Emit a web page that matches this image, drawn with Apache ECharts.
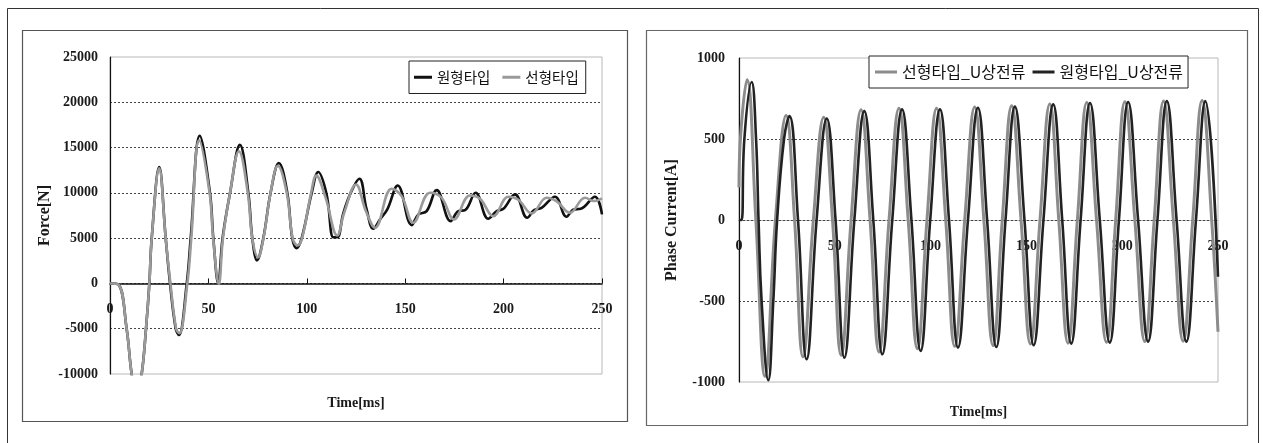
<!DOCTYPE html>
<html><head><meta charset="utf-8">
<script src="https://cdn.jsdelivr.net/npm/echarts@6/dist/echarts.min.js"></script>
<style>html,body{margin:0;padding:0;background:#fff}#c{width:1263px;height:443px}</style>
</head><body><div id="c"></div>
<script>
// ---- Left chart: Force [N] vs Time [ms]
const forceRoundT = [0, 4.2, 8.5, 11, 13.5, 16.1, 18.3, 20, 21.2, 25, 28.3, 30.5, 33.4, 35, 39, 41, 45.6, 50.8, 52.5, 55, 57.2, 61, 66, 70.3, 72.3, 74.7, 77.9, 81.6, 85.8, 90.1, 92.6, 94.8, 97.4, 102.5, 105.8, 110, 113.5, 115.5, 118.5, 122.3, 126.7, 130.4, 133.8, 137.2, 140.9, 146.2, 153.3, 156.7, 160.9, 166, 173.1, 177, 180.4, 185.8, 192.2, 196.5, 199.9, 205.8, 212, 215.5, 219.3, 226.1, 232, 235.6, 239.2, 246.4, 250];
const forceRoundV = [0, -100, -5080, -10000, -12500, -10000, -5000, 0, 5000, 12850, 5000, 0, -5000, -5700, 0, 5000, 16300, 10000, 5000, 0, 5000, 10000, 15300, 10000, 5000, 2550, 5000, 10000, 13300, 10000, 5000, 3900, 5000, 10000, 12300, 9900, 5100, 5100, 7700, 10000, 11560, 8170, 6040, 7070, 8170, 10820, 6440, 7620, 7980, 10300, 6880, 7980, 8090, 10010, 7140, 7980, 8240, 9830, 7250, 8090, 8350, 9570, 7360, 8170, 8240, 9570, 7620];

const forceLinearT = [0, 4.2, 8.5, 11, 13.5, 16.1, 18.3, 20, 21.2, 25, 28.3, 30.7, 33.6, 35.2, 39.3, 41.3, 45.3, 50.6, 52.4, 55.3, 57.4, 61, 65.5, 70, 72.3, 75.2, 78, 81.6, 85.3, 89.8, 92.8, 95.2, 97.6, 102.2, 104.8, 109.5, 115.5, 119, 125, 130, 134.7, 143.1, 148.2, 154.1, 162.6, 168.5, 174.8, 182.9, 188, 194.8, 202.4, 207.5, 214.3, 221.9, 227, 233.7, 241.4, 246, 250];
const forceLinearV = [0, -100, -5080, -10000, -12500, -10000, -5000, 0, 5000, 12700, 5000, 0, -5000, -5500, 0, 5000, 15800, 10000, 5000, -50, 5000, 10000, 14600, 10000, 5000, 2900, 5000, 10000, 13000, 10000, 5000, 4200, 5000, 10000, 11900, 9500, 5300, 7800, 10930, 8000, 6150, 10450, 9640, 6700, 10010, 9460, 7070, 9710, 9350, 7430, 9570, 9240, 7730, 9460, 9060, 7800, 9460, 9100, 9400];

// ---- Right chart: Phase current [A] vs Time [ms]
const curLinearT = [0, 0.9, 4.2, 8.8, 13.6, 19, 24.6, 29, 33.4, 38.8, 44.2, 48.8, 53.3, 58.5, 63.7, 68.4, 73.1, 78.3, 83.5, 88.3, 93.1, 98.1, 103.1, 107.9, 112.6, 117.8, 123, 127.8, 132.6, 137.4, 142.3, 147.2, 152.1, 157.1, 162.2, 166.9, 171.7, 176.6, 181.5, 186.6, 191.8, 196.6, 201.4, 206.6, 211.8, 216.7, 221.6, 226.7, 231.8, 236.8, 241.7, 246.7, 250];
const curLinearV = [200, 530, 865, 0, -965, 0, 645, 0, -845, 0, 635, 0, -835, 0, 680, 0, -815, 0, 690, 0, -795, 0, 690, 0, -780, 0, 698, 0, -775, 0, 705, 0, -765, 0, 716, 0, -760, 0, 725, 0, -755, 0, 730, 0, -750, 0, 735, 0, -748, 0, 737, 0, -690];

const curRoundT = [0, 1.3, 2.8, 6.6, 8.9, 10.2, 11.8, 15.3, 17.9, 19.9, 23.5, 26.3, 30.8, 35.3, 40.5, 45.8, 50.4, 55, 60.2, 65.4, 70.1, 74.8, 80, 85.1, 90, 94.8, 99.8, 104.9, 109.6, 114.3, 119.5, 124.7, 129.5, 134.3, 139.1, 144, 149, 153.8, 158.9, 164, 168.7, 173.4, 178.3, 183.2, 188.3, 193.5, 198.3, 203.1, 208.3, 213.5, 218.4, 223.3, 228.4, 233.5, 238.5, 243.4, 250];
const curRoundV = [0, 0, 500, 852, 500, 0, -500, -989, -500, 0, 500, 642, 0, -860, 0, 627, 0, -850, 0, 672, 0, -829, 0, 683, 0, -808, 0, 683, 0, -788, 0, 693, 0, -784, 0, 700, 0, -773, 0, 714, 0, -763, 0, 722, 0, -757, 0, 728, 0, -751, 0, 734, 0, -751, 0, 734, -350];

// ---- Axes ticks
const timeTicks = [0, 50, 100, 150, 200, 250];
const forceTicks = [-10000, -5000, 0, 5000, 10000, 15000, 20000, 25000];
const currentTicks = [-1000, -500, 0, 500, 1000];

const pair = (t, v) => t.map((x, i) => [x, v[i]]);
const serif = '"Liberation Serif", "Times New Roman", serif';
const kr = '"Noto Sans CJK KR", "Noto Sans", sans-serif';
const lbl = { fontFamily: serif, fontWeight: 'bold', fontSize: 14, color: '#1a1a1a', formatter: v => String(v) };
const nameStyle = { fontFamily: serif, fontWeight: 'bold', fontSize: 14, color: '#1a1a1a' };
const dotted = { type: [2, 2], color: '#444', width: 1 };

function axisFrom(ticks) {
  return { min: ticks[0], max: ticks[ticks.length - 1], interval: ticks[1] - ticks[0] };
}

const chart = echarts.init(document.getElementById('c'), null, { renderer: 'canvas' });
chart.setOption({
  animation: false,
  backgroundColor: '#fff',
  graphic: [
    { type: 'rect', silent: true, z: -10, shape: { x: 7.5, y: 8.5, width: 1251, height: 460 }, style: { fill: 'none', stroke: '#333', lineWidth: 1 } },
    { type: 'rect', silent: true, z: -10, shape: { x: 22.5, y: 30.5, width: 605, height: 391 }, style: { fill: 'none', stroke: '#555', lineWidth: 1.2 } },
    { type: 'rect', silent: true, z: -10, shape: { x: 646.5, y: 30.5, width: 601, height: 395 }, style: { fill: 'none', stroke: '#666', lineWidth: 1.2 } }
  ],
  grid: [
    { left: 110, top: 57, width: 492, height: 317, outerBoundsMode: 'none', containLabel: false, show: true, borderColor: '#b8b8b8', borderWidth: 1, backgroundColor: 'transparent' },
    { left: 739, top: 58, width: 479, height: 324, outerBoundsMode: 'none', containLabel: false, show: true, borderColor: '#b8b8b8', borderWidth: 1, backgroundColor: 'transparent' }
  ],
  legend: [
    {
      data: ['원형타입', '선형타입'], left: 409, top: 61, orient: 'horizontal',
      padding: [9, 7, 9, 5], itemGap: 12, itemWidth: 18, itemHeight: 3, icon: 'rect',
      borderColor: '#222', borderWidth: 1, backgroundColor: '#fff',
      textStyle: { fontFamily: kr, fontSize: 14.5, color: '#111' }
    },
    {
      data: ['선형타입_U상전류', '원형타입_U상전류'], left: 869, top: 56, orient: 'horizontal',
      padding: [8, 5, 8, 6], itemGap: 7, itemWidth: 22, itemHeight: 3, icon: 'rect',
      borderColor: '#222', borderWidth: 1, backgroundColor: '#fff',
      textStyle: { fontFamily: kr, fontSize: 16, color: '#111' }
    }
  ],
  xAxis: [
    Object.assign({
      gridIndex: 0, type: 'value',
      axisLine: { onZero: true, lineStyle: { color: '#111', width: 1.5 } },
      axisTick: { show: true, inside: true, length: 5, lineStyle: { color: '#111' } },
      axisLabel: Object.assign({}, lbl, { margin: -72 }),
      splitLine: { show: false },
      name: 'Time[ms]', nameLocation: 'middle', nameGap: 22, nameTextStyle: nameStyle
    }, axisFrom(timeTicks)),
    Object.assign({
      gridIndex: 1, type: 'value',
      axisLine: { show: true, onZero: true, lineStyle: dotted },
      axisTick: { show: false },
      axisLabel: Object.assign({}, lbl, { margin: -143 }),
      splitLine: { show: false },
      name: 'Time[ms]', nameLocation: 'middle', nameGap: 23, nameTextStyle: nameStyle
    }, axisFrom(timeTicks))
  ],
  yAxis: [
    Object.assign({
      gridIndex: 0, type: 'value',
      axisLine: { show: true, onZero: false, lineStyle: { color: '#111', width: 1.2 } },
      axisTick: { show: false },
      axisLabel: Object.assign({}, lbl, { margin: 12 }),
      splitLine: { show: true, showMinLine: false, showMaxLine: false, lineStyle: dotted },
      name: 'Force[N]', nameLocation: 'middle', nameGap: 57, nameRotate: 90,
      nameTextStyle: Object.assign({}, nameStyle, { fontSize: 16 })
    }, axisFrom(forceTicks)),
    Object.assign({
      gridIndex: 1, type: 'value',
      axisLine: { show: true, onZero: false, lineStyle: { color: '#111', width: 1.2 } },
      axisTick: { show: false },
      axisLabel: Object.assign({}, lbl, { margin: 14 }),
      splitLine: { show: true, showMinLine: false, showMaxLine: false, lineStyle: dotted },
      name: 'Phase Current[A]', nameLocation: 'middle', nameGap: 59, nameRotate: 90,
      nameTextStyle: Object.assign({}, nameStyle, { fontSize: 16 })
    }, axisFrom(currentTicks))
  ],
  series: [
    { name: '원형타입', type: 'line', xAxisIndex: 0, yAxisIndex: 0, data: pair(forceRoundT, forceRoundV), symbol: 'none', smooth: 0.4, clip: true,
      lineStyle: { color: '#111', width: 2.6 }, itemStyle: { color: '#111' } },
    { name: '선형타입', type: 'line', xAxisIndex: 0, yAxisIndex: 0, data: pair(forceLinearT, forceLinearV), symbol: 'none', smooth: 0.4, clip: true,
      lineStyle: { color: '#9a9a9a', width: 2.6 }, itemStyle: { color: '#9a9a9a' } },
    { name: '선형타입_U상전류', type: 'line', xAxisIndex: 1, yAxisIndex: 1, data: pair(curLinearT, curLinearV), symbol: 'none', smooth: 0.45, clip: true,
      lineStyle: { color: '#8c8c8c', width: 3 }, itemStyle: { color: '#8c8c8c' } },
    { name: '원형타입_U상전류', type: 'line', xAxisIndex: 1, yAxisIndex: 1, data: pair(curRoundT, curRoundV), symbol: 'none', smooth: 0.45, clip: true,
      lineStyle: { color: '#222', width: 2.6 }, itemStyle: { color: '#222' } }
  ]
});
</script>
</body></html>
